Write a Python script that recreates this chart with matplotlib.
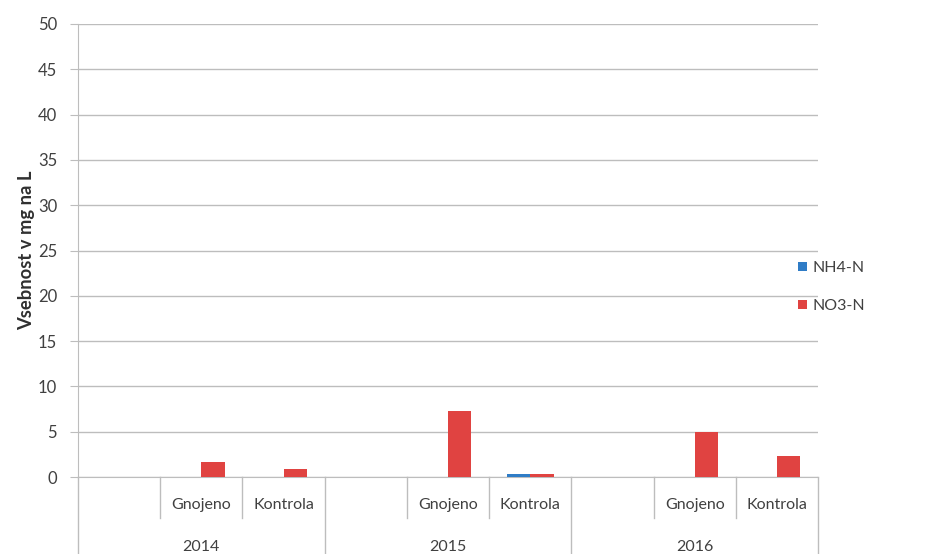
import matplotlib
matplotlib.use("Agg")
import matplotlib.pyplot as plt
import matplotlib.transforms as mtransforms
import numpy as np

plt.rcParams['font.family'] = ['Lato', 'DejaVu Sans']

years = ["2014", "2015", "2016"]
treatments = ["", "Gnojeno", "Kontrola"]
series_names = ["NH4-N", "NO3-N"]
nh4 = [np.nan, 0.05, 0.05, np.nan, 0.05, 0.3, np.nan, 0.05, 0.05]
no3 = [np.nan, 1.7, 0.9, np.nan, 7.3, 0.3, np.nan, 5.0, 2.3]
colors = ["#2F7CC6", "#E04341"]
y_ticks = list(range(0, 55, 5))

fig = plt.figure(figsize=(9.25, 5.54), dpi=100)
ax = fig.add_axes([78 / 925, 1 - 477 / 554, (818 - 78) / 925, (477 - 24) / 554])

n_slots = len(years) * len(treatments)
x = np.arange(n_slots) + 0.5
w = 1 / 3.5
for vals, name, col, off in zip([nh4, no3], series_names, colors, [-0.5, 0.5]):
    ax.bar(x + off * w, vals, width=w, color=col, label=name, zorder=3)

ax.set_xlim(0, n_slots)
ax.set_ylim(0, 50)
ax.set_yticks(y_ticks)
ax.yaxis.grid(True, color="#BDBDBD", linewidth=1.0)
ax.set_axisbelow(True)
ax.tick_params(axis='y', length=6, color="#BDBDBD", labelsize=12,
               labelcolor="#404040", pad=9)
ax.tick_params(axis='x', length=0, labelbottom=False)
for s in ["top", "right"]:
    ax.spines[s].set_visible(False)
ax.spines["left"].set_color("#BDBDBD")
ax.spines["bottom"].set_color("#BDBDBD")
ax.set_ylabel("Vsebnost v mg na L", fontsize=13.2, fontweight="bold",
              color="#303030", labelpad=2)

# Two-level category axis below the plot
trans = mtransforms.blended_transform_factory(ax.transData, ax.transAxes)
ax_h = 453.0
y_sub = -41 / ax_h
y_bot = -80 / ax_h
line_kw = dict(color="#BDBDBD", linewidth=1.0, transform=trans, clip_on=False)
ax.plot([0, 0], [0, y_bot], **line_kw)
for i, yr in enumerate(years):
    start = i * len(treatments)
    ax.plot([start + len(treatments)] * 2, [0, y_bot], **line_kw)
    for j, t in enumerate(treatments):
        pos = start + j
        if t:
            ax.plot([pos, pos], [0, y_sub], **line_kw)
            ax.text(pos + 0.5, -28 / ax_h, t, transform=trans, ha="center",
                    va="center", fontsize=11.5, color="#404040")
    ax.text(start + len(treatments) / 2, -70 / ax_h, yr, transform=trans,
            ha="center", va="center", fontsize=11.5, color="#404040")

leg = fig.legend(loc="center left", bbox_to_anchor=(784 / 925, 1 - 287 / 554),
                 frameon=False, fontsize=11.5, handlelength=0.55, handleheight=0.55,
                 handletextpad=0.35, labelspacing=1.5)
for t in leg.get_texts():
    t.set_color("#404040")

fig.savefig("out.png", dpi=100)
